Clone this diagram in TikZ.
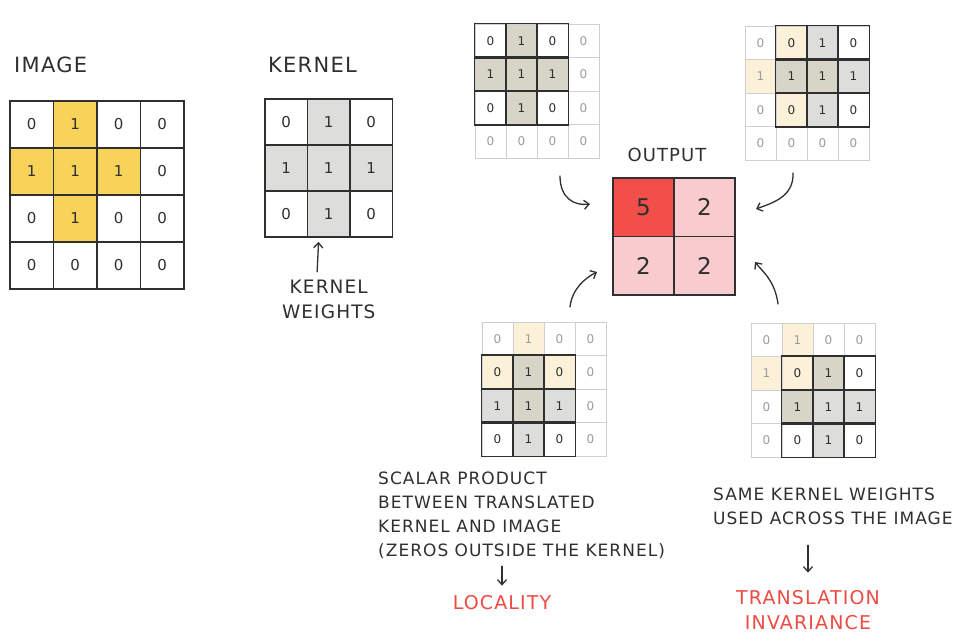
\documentclass[tikz,border=0pt]{standalone}
\usepackage{fontspec}
\setmainfont{DejaVu Sans}[LetterSpace=6]
\usetikzlibrary{arrows.meta,positioning,calc}
\definecolor{Ink}{HTML}{2F2F2F}
\definecolor{Faint}{HTML}{CFCFCF}
\definecolor{Dim}{HTML}{9C9C9C}
\definecolor{Sun}{HTML}{F8D35A}
\definecolor{SunPale}{HTML}{FBF0D8}
\definecolor{Ash}{HTML}{DDDDDB}
\definecolor{Olive}{HTML}{D7D5C7}
\definecolor{Hot}{HTML}{F24E4A}
\definecolor{Blush}{HTML}{F8CBCF}
\definecolor{Alert}{HTML}{EE4A44}
\colorlet{im0}{white}\colorlet{im1}{Sun}
\colorlet{kn0}{white}\colorlet{kn1}{Ash}
\colorlet{oc5}{Hot}\colorlet{oc2}{Blush}
\colorlet{sf00}{white}\colorlet{sf10}{SunPale}\colorlet{sf01}{Ash}\colorlet{sf11}{Olive}
\colorlet{tc0}{Dim}\colorlet{tc1}{Ink}
\tikzset{
  title/.style={font=\fontsize{21}{24}\selectfont,text=Ink,inner sep=0pt},
  note/.style={font=\fontsize{17}{24}\selectfont,text=Ink,align=left,inner sep=0pt},
  key/.style={font=\fontsize{19}{25}\selectfont,text=Alert,align=center,inner sep=0pt},
  bigcell/.style={draw=Ink,line width=1.7pt,inner sep=0pt,font=\fontsize{15}{15}\selectfont,text=Ink},
  smallcell/.style={draw=Faint,line width=0.9pt,minimum width=31pt,minimum height=33.5pt,inner sep=0pt,font=\fontsize{12}{12}\selectfont},
  kline/.style={draw=Ink,line width=1.3pt},
  outcell/.style={draw=Ink,line width=1.7pt,minimum width=61pt,minimum height=58.5pt,inner sep=0pt,font=\fontsize{23}{23}\selectfont,text=Ink},
  arr/.style={-{Straight Barb[length=5pt,width=9pt]},line width=1.3pt,draw=Ink,line cap=round},
}
\begin{document}
\begin{tikzpicture}[x=1pt,y=-1pt,node distance=42pt]
 \useasboundingbox (0,0) rectangle (961,643);
 \node[title,anchor=west] (imgt) at (14,65) {IMAGE};
 \node[title,anchor=west] (kert) at (268,65) {KERNEL};
 \foreach \r/\row in {0/{0,1,0,0},1/{1,1,1,0},2/{0,1,0,0},3/{0,0,0,0}}
  \foreach \v [count=\c from 0] in \row
   \node[bigcell,minimum width=43.5pt,minimum height=47pt,fill=im\v] (i-\r-\c) at (10+43.5*\c+21.75,101+47*\r+23.5) {\v};
 \foreach \r/\row in {0/{0,1,0},1/{1,1,1},2/{0,1,0}}
  \foreach \v [count=\c from 0] in \row
   \node[bigcell,minimum width=42.5pt,minimum height=46pt,fill=kn\v] (k-\r-\c) at (265+42.5*\c+21.25,99+46*\r+23) {\v};
 \node[note,font=\fontsize{18.5}{25}\selectfont,align=center,below=of k-2-1] (kw) {KERNEL\\WEIGHTS};
 \draw[arr,shorten <=8pt,shorten >=4pt] ([xshift=-12pt]kw.north) -- ([xshift=-10pt]k-2-1.south);
 \node[title,font=\fontsize{18}{20}\selectfont] (outt) at (667,155) {OUTPUT};
 \foreach \r/\row in {0/{5,2},1/{2,2}}
  \foreach \v [count=\c from 0] in \row
   \node[outcell,fill=oc\v] (o-\r-\c) at (613+61*\c+30.5,178+58.5*\r+29.25) {\v};
 \foreach \g/\x/\y/\kr/\kc in {tl/475/24/0/0,tr/745/26/0/1,bl/482/322/1/0,br/751/323/1/1} {
  \foreach \r in {0,...,3}
   \foreach \c in {0,...,3} {
    \pgfmathtruncatemacro\im{((\r==1) && (\c<3)) || ((\c==1) && (\r<3))}
    \pgfmathtruncatemacro\ink{(\r>=\kr) && (\r<\kr+3) && (\c>=\kc) && (\c<\kc+3)}
    \pgfmathtruncatemacro\kv{\ink && ((\r-\kr==1) || (\c-\kc==1))}
    \pgfmathtruncatemacro\d{\kv+(1-\ink)*\im}
    \node[smallcell,fill=sf\im\kv,text=tc\ink] (\g-\r-\c) at (\x+31*\c+15.5,\y+33.5*\r+16.75) {\d};
   }
  \foreach \r in {0,...,3}
   \foreach \c in {0,...,3} {
    \pgfmathtruncatemacro\ink{(\r>=\kr) && (\r<\kr+3) && (\c>=\kc) && (\c<\kc+3)}
    \ifnum\ink=1 \draw[kline] (\g-\r-\c.north west) rectangle (\g-\r-\c.south east); \fi
   }
 }
 \coordinate (a1) at (560,176); \coordinate (h1) at (590,204);
 \coordinate (a2) at (793,173); \coordinate (h2) at (756,209);
 \coordinate (a3) at (570,307); \coordinate (h3) at (597,272);
 \coordinate (a4) at (778,304); \coordinate (h4) at (755,262);
 \draw[arr] (a1) .. controls +(0,22) and +(-16,2) .. (h1);
 \draw[arr] (a2) .. controls +(1,24) and +(16,-6) .. (h2);
 \draw[arr] (a3) .. controls +(2,-18) and +(-12,6) .. (h3);
 \draw[arr] (a4) .. controls +(-3,-24) and +(6,8) .. (h4);
 \node[note,anchor=north west] (locn) at (378,472) {SCALAR PRODUCT\\BETWEEN TRANSLATED\\KERNEL AND IMAGE\\(ZEROS OUTSIDE THE KERNEL)};
 \node[key] (loc) at (502,603) {LOCALITY};
 \draw[arr,shorten <=7pt,shorten >=10pt] (loc.north |- locn.south) -- (loc.north);
 \node[note,anchor=north west] (tin) at (713,488) {SAME KERNEL WEIGHTS\\USED ACROSS THE IMAGE};
 \node[key] (ti) at (808,610.5) {TRANSLATION\\INVARIANCE};
 \draw[arr,shorten <=20pt,shorten >=18pt] (ti.north |- tin.south) -- (ti.north);
\end{tikzpicture}
\end{document}
